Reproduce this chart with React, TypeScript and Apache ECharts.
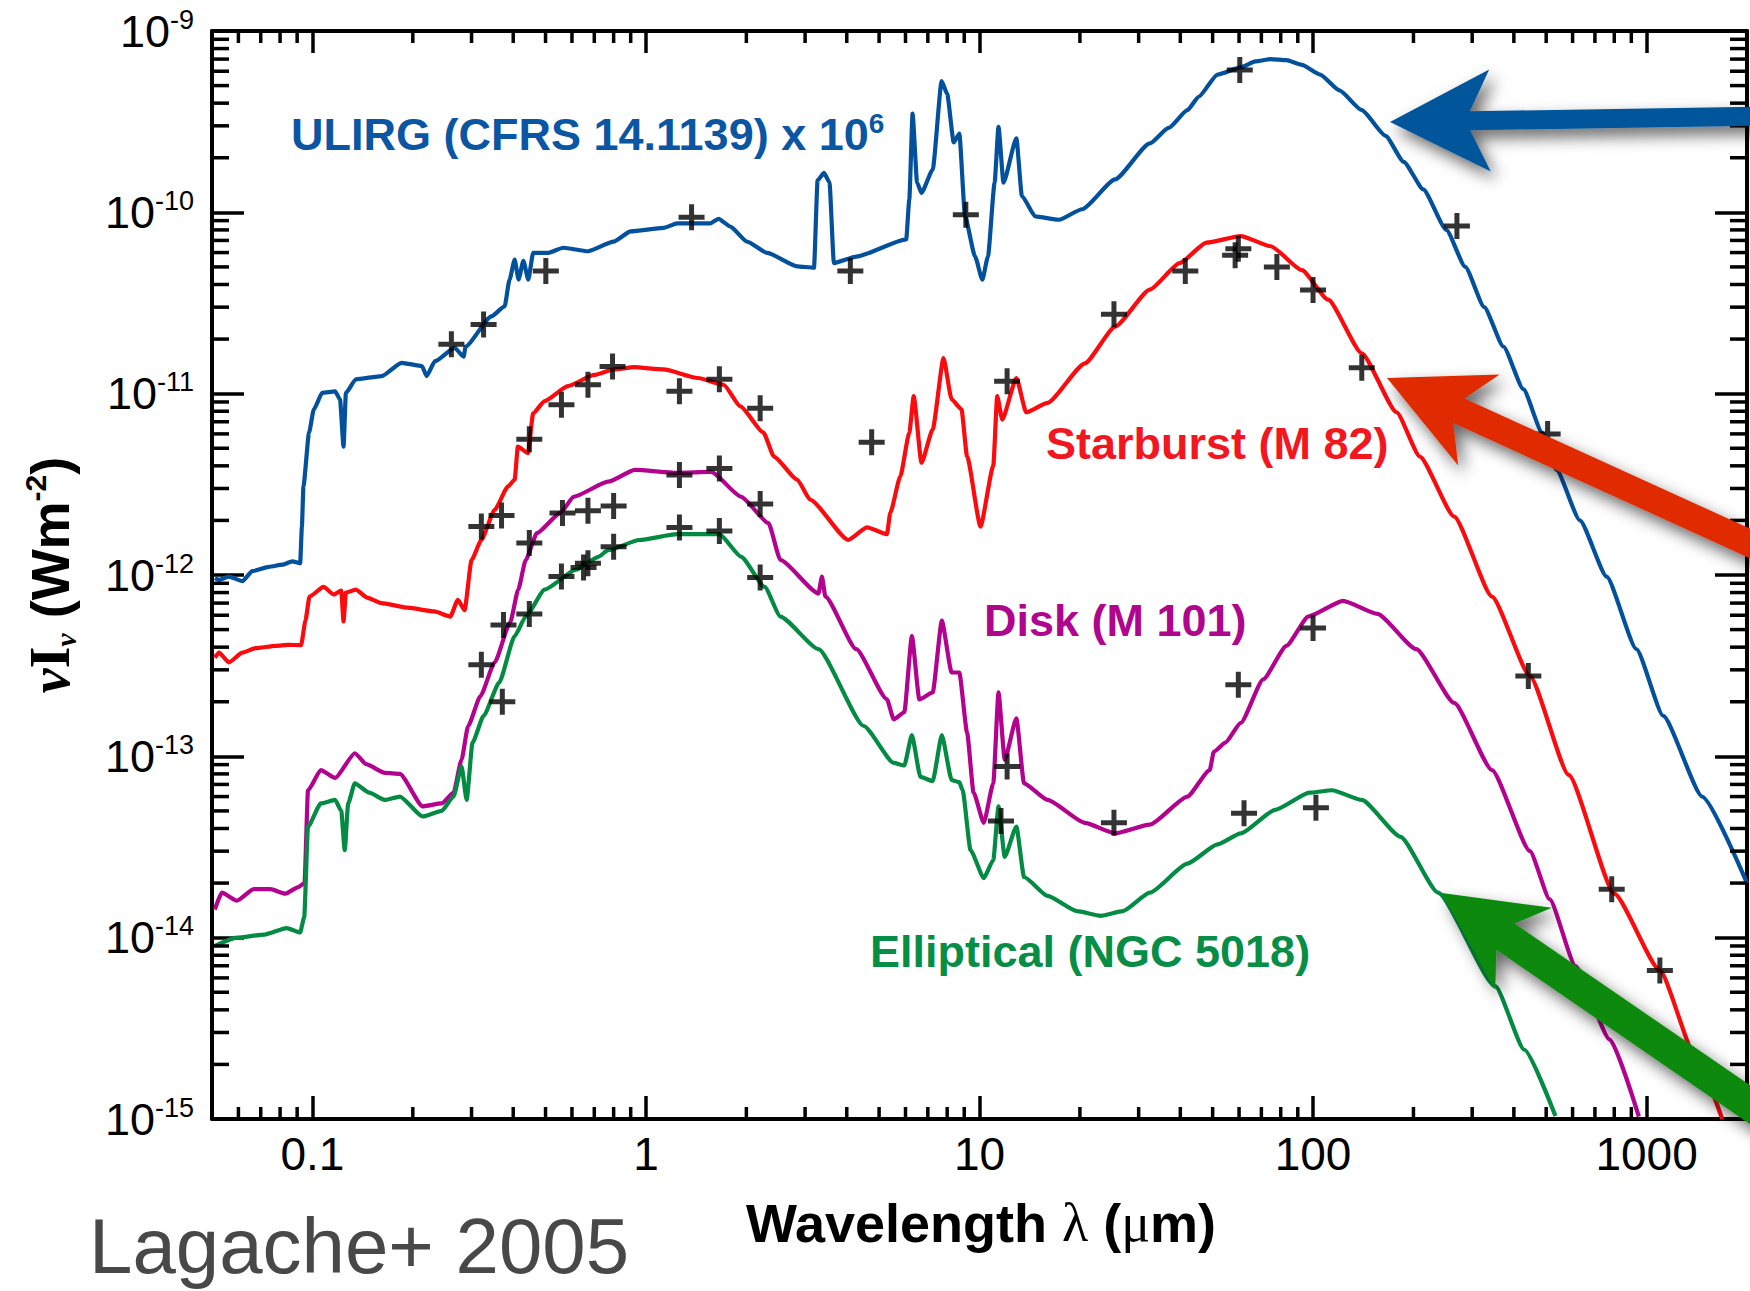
import React, { useEffect, useRef } from 'react';
import * as echarts from 'echarts';

const FONT = '"Liberation Sans", Arial, Helvetica, sans-serif';
const SERIF = '"Liberation Serif", "DejaVu Serif", serif';

// wavelength (µm), νIν (W m^-2)
const ULIRG_SPECTRUM: [number, number][] = [
  [0.051, 9.6e-13], [0.0525, 9.4e-13], [0.0562, 9.8e-13], [0.0617, 9.25e-13], [0.066, 1.05e-12], [0.0741, 1.11e-12],
  [0.0813, 1.14e-12], [0.0871, 1.19e-12], [0.0919, 1.16e-12], [0.093, 1.85e-12], [0.094, 3.08e-12], [0.0977, 6.1e-12],
  [0.101, 8.2e-12], [0.107, 1.01e-11], [0.117, 1.03e-11], [0.121, 9.3e-12], [0.124, 5.1e-12], [0.126, 1.01e-11],
  [0.135, 1.2e-11], [0.1615, 1.25e-11], [0.185, 1.48e-11], [0.213, 1.42e-11], [0.22, 1.25e-11], [0.233, 1.51e-11],
  [0.267, 1.79e-11], [0.284, 1.6e-11], [0.288, 1.82e-11], [0.344, 2.67e-11], [0.377, 3.03e-11], [0.39, 4.26e-11],
  [0.404, 5.48e-11], [0.415, 4.26e-11], [0.429, 5.4e-11], [0.444, 4.26e-11], [0.459, 5.98e-11], [0.51, 5.98e-11],
  [0.565, 6.38e-11], [0.67, 6.1e-11], [0.8, 6.9e-11], [0.9, 7.85e-11], [1.13, 8.2e-11], [1.24, 8.7e-11],
  [1.56, 8.7e-11], [1.65, 9.2e-11], [1.79, 8.35e-11], [2.01, 6.9e-11], [2.31, 5.97e-11], [2.84, 5.04e-11],
  [3.19, 4.95e-11], [3.27, 1.5e-10], [3.42, 1.65e-10], [3.55, 1.46e-10], [3.66, 5.25e-11], [4.27, 5.7e-11],
  [6.03, 7.1e-11], [6.16, 1.18e-10], [6.3, 3.5e-10], [6.5, 1.46e-10], [6.7, 1.28e-10], [7.24, 1.72e-10],
  [7.7, 5.3e-10], [8.0, 4.5e-10], [8.37, 2.43e-10], [8.7, 2.72e-10], [9.05, 9.5e-11], [9.7, 5.7e-11],
  [10.2, 4.25e-11], [10.6, 5.7e-11], [11.1, 1.46e-10], [11.4, 2.96e-10], [11.8, 1.46e-10], [12.9, 2.56e-10],
  [13.4, 1.23e-10], [14.7, 9.5e-11], [17.3, 9.1e-11], [20.3, 1.04e-10], [25.5, 1.52e-10], [32.4, 2.4e-10],
  [36.9, 2.92e-10], [42, 3.66e-10], [45.4, 4.34e-10], [51.7, 5.75e-10], [60.7, 6.3e-10], [67.2, 6.8e-10],
  [74.7, 7.0e-10], [83.2, 6.9e-10], [92.6, 6.5e-10], [105, 5.75e-10], [120, 4.7e-10], [140, 3.66e-10],
  [165, 2.64e-10], [187, 1.9e-10], [214, 1.34e-10], [251, 8.0e-11], [286, 5.0e-11], [326, 3.0e-11],
  [372, 1.82e-11], [427, 1.06e-11], [486, 6.1e-12], [537, 3.8e-12], [631, 2.0e-12], [759, 9.8e-13],
  [932, 3.9e-13], [1122, 1.67e-13], [1468, 6.0e-14], [2000, 2.0e-14],
];

const STARBURST_SPECTRUM: [number, number][] = [
  [0.051, 3.5e-13], [0.0525, 3.73e-13], [0.0562, 3.3e-13], [0.0617, 3.73e-13], [0.0676, 3.95e-13], [0.0776, 4.07e-13],
  [0.085, 4.12e-13], [0.0925, 4.1e-13], [0.0953, 5.6e-13], [0.098, 7.6e-13], [0.108, 8.6e-13], [0.116, 7.8e-13],
  [0.122, 8.2e-13], [0.124, 5.55e-13], [0.126, 8.0e-13], [0.135, 8.3e-13], [0.146, 7.5e-13], [0.161, 7.0e-13],
  [0.193, 6.6e-13], [0.232, 6.3e-13], [0.259, 5.9e-13], [0.273, 7.3e-13], [0.286, 6.4e-13], [0.3, 1.21e-12],
  [0.321, 1.56e-12], [0.352, 2.29e-12], [0.386, 3.08e-12], [0.404, 3.36e-12], [0.413, 5.1e-12], [0.443, 4.7e-12],
  [0.459, 7.8e-12], [0.497, 9.1e-12], [0.583, 1.1e-11], [0.7, 1.27e-11], [0.8, 1.36e-11], [0.92, 1.4e-11],
  [1.13, 1.36e-11], [1.43, 1.22e-11], [1.71, 1.12e-11], [1.92, 8.5e-12], [2.25, 6.1e-12], [2.42, 4.5e-12],
  [2.84, 3.36e-12], [3.11, 2.6e-12], [4.04, 1.56e-12], [4.6, 1.83e-12], [5.28, 1.68e-12], [5.4, 2.2e-12],
  [5.79, 3.5e-12], [6.16, 6.1e-12], [6.35, 9.7e-12], [6.7, 4.15e-12], [7.24, 6.35e-12], [7.8, 1.57e-11],
  [8.25, 9.3e-12], [8.83, 8.2e-12], [9.18, 4.5e-12], [10.07, 1.85e-12], [11.0, 4.0e-12], [11.3, 9.7e-12],
  [11.7, 7.2e-12], [12.9, 1.22e-11], [13.8, 7.9e-12], [16.0, 8.9e-12], [20.7, 1.47e-11], [25.5, 2.34e-11],
  [32.4, 3.75e-11], [39.8, 5.25e-11], [47.9, 6.8e-11], [60.7, 7.4e-11], [74.7, 6.5e-11], [92.6, 4.8e-11],
  [111, 3.3e-11], [140, 1.67e-11], [178, 7.9e-12], [209, 4.5e-12], [265, 2.1e-12], [344, 7.6e-13],
  [447, 2.77e-13], [584, 7.9e-14], [800, 1.75e-14], [1096, 6.6e-15], [1402, 2.2e-15], [1686, 1.0e-15],
];

const DISK_SPECTRUM: [number, number][] = [
  [0.051, 1.43e-14], [0.0535, 1.77e-14], [0.0594, 1.6e-14], [0.0667, 1.85e-14], [0.0748, 1.85e-14], [0.083, 1.75e-14],
  [0.0907, 1.9e-14], [0.0947, 2.0e-14], [0.097, 6.5e-14], [0.106, 8.4e-14], [0.117, 7.6e-14], [0.134, 1.04e-13],
  [0.145, 9.05e-14], [0.165, 8.1e-14], [0.183, 8.0e-14], [0.214, 5.3e-14], [0.244, 5.5e-14], [0.265, 6.3e-14],
  [0.28, 9.6e-14], [0.293, 1.47e-13], [0.319, 2.15e-13], [0.352, 3.3e-13], [0.392, 5.5e-13], [0.414, 8.3e-13],
  [0.436, 1.21e-12], [0.471, 1.7e-12], [0.554, 2.2e-12], [0.607, 2.7e-12], [0.77, 3.27e-12], [0.926, 3.8e-12],
  [1.24, 3.66e-12], [1.57, 3.7e-12], [1.93, 2.7e-12], [2.33, 1.93e-12], [2.53, 1.21e-12], [3.29, 7.9e-13],
  [3.37, 9.8e-13], [3.45, 7.6e-13], [4.27, 3.9e-13], [5.28, 2.06e-13], [5.53, 1.6e-13], [5.95, 1.75e-13],
  [6.27, 4.6e-13], [6.6, 2.06e-13], [7.24, 2.25e-13], [7.71, 5.6e-13], [8.25, 2.9e-13], [8.7, 2.9e-13],
  [9.18, 1.35e-13], [9.6, 6.3e-14], [10.3, 4.3e-14], [11.0, 7.1e-14], [11.4, 2.25e-13], [11.9, 9.6e-14],
  [12.9, 1.62e-13], [13.6, 7.1e-14], [16.0, 5.75e-14], [20.7, 4.3e-14], [25.5, 3.76e-14], [32.4, 4.2e-14],
  [42, 6.0e-14], [49, 8.4e-14], [50.4, 1.06e-13], [54.6, 1.19e-13], [60.7, 1.53e-13], [70.9, 2.66e-13],
  [83.2, 4.07e-13], [96.8, 5.9e-13], [123, 7.2e-13], [156, 6.1e-13], [204, 3.9e-13], [265, 1.97e-13],
  [344, 8.4e-14], [447, 3.0e-14], [512, 1.63e-14], [612, 6.97e-15], [776, 2.74e-15], [948, 1.03e-15],
];

const ELLIPTICAL_SPECTRUM: [number, number][] = [
  [0.051, 9.0e-15], [0.0594, 1.0e-14], [0.0718, 1.04e-14], [0.0837, 1.13e-14], [0.0919, 1.07e-14], [0.0945, 1.3e-14],
  [0.097, 4.1e-14], [0.106, 5.5e-14], [0.117, 5.75e-14], [0.122, 5.0e-14], [0.125, 3.04e-14], [0.128, 5.5e-14],
  [0.134, 7.1e-14], [0.148, 6.3e-14], [0.165, 5.75e-14], [0.183, 6.0e-14], [0.214, 4.66e-14], [0.244, 5.0e-14],
  [0.265, 6.0e-14], [0.28, 8.8e-14], [0.29, 5.75e-14], [0.302, 1.19e-13], [0.326, 1.67e-13], [0.363, 2.55e-13],
  [0.404, 4.6e-13], [0.436, 5.9e-13], [0.497, 8.3e-13], [0.617, 1.07e-12], [0.72, 1.26e-12], [0.77, 1.37e-12],
  [0.955, 1.56e-12], [1.24, 1.68e-12], [1.66, 1.68e-12], [1.93, 1.26e-12], [2.27, 8.6e-13], [2.53, 5.9e-13],
  [3.29, 3.9e-13], [4.5, 1.47e-13], [5.53, 9.2e-14], [5.95, 8.9e-14], [6.27, 1.31e-13], [6.65, 7.7e-14],
  [7.24, 7.3e-14], [7.71, 1.31e-13], [8.25, 7.4e-14], [8.7, 7.2e-14], [8.9, 6.5e-14], [9.4, 3.04e-14],
  [10.3, 2.13e-14], [11.0, 2.68e-14], [11.4, 5.3e-14], [11.9, 2.79e-14], [12.9, 4.1e-14], [13.6, 2.16e-14],
  [16.0, 1.7e-14], [19.6, 1.4e-14], [23.1, 1.32e-14], [26.9, 1.4e-14], [32.4, 1.77e-14], [42, 2.56e-14],
  [51.7, 3.27e-14], [60.7, 3.76e-14], [77, 5.07e-14], [97.6, 6.3e-14], [114, 6.5e-14], [140, 5.75e-14],
  [183, 3.6e-14], [237, 1.77e-14], [352, 5.4e-15], [430, 2.41e-15], [533, 1.04e-15],
];

// photometric measurements (crosses)
const ULIRG_POINTS: [number, number][] = [
  [0.261, 1.87e-11], [0.326, 2.41e-11], [0.501, 4.75e-11], [1.37, 9.4e-11], [4.1, 4.75e-11], [9.1, 9.7e-11],
  [60.3, 6.1e-10], [270, 8.4e-11], [505, 6.0e-12],
];
const STARBURST_POINTS: [number, number][] = [
  [0.321, 1.85e-12], [0.369, 2.13e-12], [0.447, 5.6e-12], [0.558, 8.7e-12], [0.67, 1.12e-11], [0.794, 1.41e-11],
  [1.26, 1.03e-11], [1.66, 1.2e-11], [2.2, 8.3e-12], [4.75, 5.4e-12], [12.1, 1.17e-11], [25.3, 2.74e-11],
  [41.4, 4.75e-11], [58.4, 5.8e-11], [59.7, 6.3e-11], [77.9, 5.0e-11], [100, 3.73e-11], [140, 1.39e-11],
  [442, 2.77e-13], [786, 1.85e-14], [1096, 6.6e-15],
];
const DISK_POINTS: [number, number][] = [
  [0.321, 3.2e-13], [0.374, 5.3e-13], [0.447, 1.5e-12], [0.562, 2.2e-12], [0.67, 2.26e-12], [0.8, 2.4e-12],
  [1.26, 3.56e-12], [1.66, 3.87e-12], [2.2, 2.46e-12], [12.1, 8.8e-14], [25.3, 4.3e-14], [59.7, 2.48e-13],
  [100, 5.1e-13],
];
const ELLIPTICAL_POINTS: [number, number][] = [
  [0.371, 2.0e-13], [0.447, 6.1e-13], [0.558, 9.8e-13], [0.65, 1.1e-12], [0.67, 1.16e-12], [0.8, 1.43e-12],
  [1.26, 1.83e-12], [1.66, 1.75e-12], [2.2, 9.7e-13], [11.6, 4.4e-14], [62.1, 4.85e-14], [102, 5.2e-14],
];

const X_DECADES = [0.1, 1, 10, 100, 1000];
const X_TICK_LABELS = ['0.1', '1', '10', '100', '1000'];
const Y_DECADES = [1e-15, 1e-14, 1e-13, 1e-12, 1e-11, 1e-10, 1e-9];
const Y_TICK_EXPONENTS = ['-15', '-14', '-13', '-12', '-11', '-10', '-9'];
const MINOR_MULTIPLIERS = [2, 3, 4, 5, 6, 7, 8, 9];
const X_MIN = 0.05;
const X_MAX = 2000;
const Y_MIN = 1e-15;
const Y_MAX = 1e-9;

const COLORS = {
  ulirg: '#03519D',
  starburst: '#FB0A0E',
  disk: '#B2028E',
  elliptical: '#038B43',
};

const CROSS = 'path://M0,10.5L26,10.5L26,15.5L0,15.5Z M10.5,0L15.5,0L15.5,26L10.5,26Z';

function arrowPoints(tip: number[], angleDeg: number, length: number, headLen: number, headWidth: number, shaft: number, notch: number) {
  const a = (angleDeg * Math.PI) / 180;
  const ux = Math.cos(a), uy = Math.sin(a);
  const px = -uy, py = ux;
  const P = (along: number, side: number) => [tip[0] + ux * along + px * side, tip[1] + uy * along + py * side];
  return [
    P(0, 0), P(headLen, headWidth / 2), P(headLen - notch, shaft / 2), P(length, shaft / 2),
    P(length, -shaft / 2), P(headLen - notch, -shaft / 2), P(headLen, -headWidth / 2),
  ];
}

function matchIndex(list: number[], v: number) {
  return list.findIndex((t) => Math.abs(Math.log10(t) - Math.log10(v)) < 1e-6);
}

function buildOption() {
  const xMinor: number[][] = [];
  [0.01, 0.1, 1, 10, 100, 1000].forEach((d) =>
    MINOR_MULTIPLIERS.forEach((m) => {
      const v = d * m;
      if (v > X_MIN * 1.001 && v < X_MAX * 0.999) xMinor.push([v, 1e-12]);
    })
  );
  const yMinor: number[][] = [];
  Y_DECADES.slice(0, -1).forEach((d) => MINOR_MULTIPLIERS.forEach((m) => yMinor.push([1, d * m])));

  const tickStyle = { color: '#000', width: 3.5 };
  const axisLineStyle = { color: '#000', width: 4 };

  const lineSeries = (name: string, data: [number, number][], color: string) => ({
    type: 'line', name, data, showSymbol: false, symbol: 'none', silent: true, z: 3,
    smooth: 0.18, smoothMonotone: 'x',
    lineStyle: { color, width: 4.2, join: 'round' }, itemStyle: { color },
  });
  const crossSeries = (name: string, data: [number, number][]) => ({
    type: 'scatter', name, data, symbol: CROSS, symbolSize: 26, silent: true, z: 5,
    itemStyle: { color: '#000' },
  });

  const label = (text: string, x: number, y: number, color: string) => ({
    type: 'text', x, y, z: 50,
    style: {
      text, fill: color, font: `bold 45px ${FONT}`, fontSize: 45, fontWeight: 'bold', fontFamily: FONT,
      align: 'left', textAlign: 'left', verticalAlign: 'middle', textVerticalAlign: 'middle',
    },
  });

  const arrow = (color: string, pts: number[][]) => ({
    type: 'polygon', z: 100,
    shape: { points: pts },
    style: { fill: color, shadowBlur: 16, shadowColor: 'rgba(0,0,0,0.6)', shadowOffsetX: 6, shadowOffsetY: 8 },
  });

  return {
    animation: false,
    backgroundColor: '#fff',
    grid: { left: 212, top: 31, right: 0, bottom: 172 },
    xAxis: [
      {
        type: 'log', logBase: 10, min: X_MIN, max: X_MAX, position: 'bottom',
        axisLine: { lineStyle: axisLineStyle },
        axisTick: { inside: true, length: 23, lineStyle: tickStyle },
        splitLine: { show: false },
        axisLabel: {
          color: '#000', fontSize: 46, fontFamily: FONT, margin: 12,
          formatter: (v: number) => {
            const i = matchIndex(X_DECADES, v);
            return i >= 0 ? X_TICK_LABELS[i] : '';
          },
        },
      },
      {
        type: 'log', logBase: 10, min: X_MIN, max: X_MAX, position: 'top',
        axisLine: { lineStyle: axisLineStyle },
        axisTick: { inside: true, length: 22, lineStyle: tickStyle },
        splitLine: { show: false },
        axisLabel: { show: false },
      },
    ],
    yAxis: [
      {
        type: 'log', logBase: 10, min: Y_MIN, max: Y_MAX, position: 'left',
        axisLine: { lineStyle: axisLineStyle },
        axisTick: { inside: true, length: 32, lineStyle: tickStyle },
        splitLine: { show: false },
        axisLabel: {
          margin: 18,
          formatter: (v: number) => {
            const i = matchIndex(Y_DECADES, v);
            return i >= 0 ? `{b|10}{s|${Y_TICK_EXPONENTS[i]}}` : '';
          },
          rich: {
            b: { fontSize: 45, fontFamily: FONT, color: '#000', lineHeight: 50 },
            s: { fontSize: 27, fontFamily: FONT, color: '#000', lineHeight: 36, verticalAlign: 'top' },
          },
        },
      },
      {
        type: 'log', logBase: 10, min: Y_MIN, max: Y_MAX, position: 'right',
        axisLine: { lineStyle: axisLineStyle },
        axisTick: { inside: true, length: 32, lineStyle: tickStyle },
        splitLine: { show: false },
        axisLabel: { show: false },
      },
    ],
    series: [
      lineSeries('ULIRG (CFRS 14.1139) x 10^6', ULIRG_SPECTRUM, COLORS.ulirg),
      lineSeries('Starburst (M 82)', STARBURST_SPECTRUM, COLORS.starburst),
      lineSeries('Disk (M 101)', DISK_SPECTRUM, COLORS.disk),
      lineSeries('Elliptical (NGC 5018)', ELLIPTICAL_SPECTRUM, COLORS.elliptical),
      crossSeries('ULIRG data', ULIRG_POINTS),
      crossSeries('Starburst data', STARBURST_POINTS),
      crossSeries('Disk data', DISK_POINTS),
      crossSeries('Elliptical data', ELLIPTICAL_POINTS),
      {
        type: 'custom', name: 'x minor ticks', silent: true, z: 6, data: xMinor,
        renderItem: (_p: any, api: any) => {
          const x = api.value(0);
          const b = api.coord([x, Y_MIN]);
          const t = api.coord([x, Y_MAX]);
          return {
            type: 'group',
            children: [
              { type: 'line', shape: { x1: b[0], y1: b[1], x2: b[0], y2: b[1] - 12 }, style: { stroke: '#000', lineWidth: 3.5 } },
              { type: 'line', shape: { x1: t[0], y1: t[1], x2: t[0], y2: t[1] + 12 }, style: { stroke: '#000', lineWidth: 3.5 } },
            ],
          };
        },
      },
      {
        type: 'custom', name: 'y minor ticks', silent: true, z: 6, data: yMinor,
        renderItem: (_p: any, api: any) => {
          const y = api.value(1);
          const l = api.coord([X_MIN, y]);
          const r = api.coord([X_MAX, y]);
          return {
            type: 'group',
            children: [
              { type: 'line', shape: { x1: l[0], y1: l[1], x2: l[0] + 17, y2: l[1] }, style: { stroke: '#000', lineWidth: 3.5 } },
              { type: 'line', shape: { x1: r[0], y1: r[1], x2: r[0] - 17, y2: r[1] }, style: { stroke: '#000', lineWidth: 3.5 } },
            ],
          };
        },
      },
    ],
    graphic: [
      {
        type: 'text', x: 291, y: 134, z: 50,
        style: {
          text: '{t|ULIRG (CFRS 14.1139) x 10}{s|6}',
          align: 'left', textAlign: 'left', verticalAlign: 'middle', textVerticalAlign: 'middle',
          rich: {
            t: { fontSize: 45, fontWeight: 'bold', fontFamily: FONT, fill: '#0A56A3', color: '#0A56A3', lineHeight: 50 },
            s: { fontSize: 28, fontWeight: 'bold', fontFamily: FONT, fill: '#0A56A3', color: '#0A56A3', lineHeight: 36, verticalAlign: 'top' },
          },
        },
      },
      label('Starburst (M 82)', 1046, 443, '#F2171F'),
      label('Disk (M 101)', 984, 620, '#B0068D'),
      label('Elliptical (NGC 5018)', 870, 951, '#078E46'),
      {
        type: 'text', x: 981, y: 1223, z: 50,
        style: {
          text: '{a|Wavelength }{l|λ}{a| (}{l|μ}{a|m)}',
          align: 'center', textAlign: 'center', verticalAlign: 'middle', textVerticalAlign: 'middle',
          rich: {
            a: { fontSize: 54, fontWeight: 'bold', fontFamily: FONT, fill: '#000', color: '#000' },
            l: { fontSize: 54, fontWeight: 'normal', fontFamily: SERIF, fill: '#000', color: '#000' },
          },
        },
      },
      {
        type: 'text', x: 50, y: 575, z: 50, rotation: Math.PI / 2,
        style: {
          text: '{nu|ν}{I|I}{sub|ν}{t| (Wm}{sup|-2}{t|)}',
          align: 'center', textAlign: 'center', verticalAlign: 'middle', textVerticalAlign: 'middle',
          rich: {
            nu: { fontSize: 56, fontWeight: 'bold', fontStyle: 'italic', fontFamily: SERIF, fill: '#000', color: '#000', lineHeight: 60 },
            I: { fontSize: 56, fontWeight: 'bold', fontFamily: SERIF, fill: '#000', color: '#000', lineHeight: 60 },
            sub: { fontSize: 30, fontStyle: 'italic', fontWeight: 'bold', fontFamily: SERIF, fill: '#000', color: '#000', lineHeight: 40, verticalAlign: 'bottom' },
            t: { fontSize: 54, fontWeight: 'bold', fontFamily: FONT, fill: '#000', color: '#000', lineHeight: 60 },
            sup: { fontSize: 30, fontWeight: 'bold', fontFamily: FONT, fill: '#000', color: '#000', lineHeight: 40, verticalAlign: 'top' },
          },
        },
      },
      {
        type: 'text', x: 89, y: 1246, z: 50,
        style: {
          text: 'Lagache+ 2005', fill: '#484848', font: `78px ${FONT}`, fontSize: 78, fontFamily: FONT,
          align: 'left', textAlign: 'left', verticalAlign: 'middle', textVerticalAlign: 'middle',
        },
      },
      arrow('#04559B', arrowPoints([1390, 122], -0.9, 420, 100, 102, 19, 20)),
      arrow('#E02A06', arrowPoints([1387, 378], 24.5, 450, 101, 100, 27, 22)),
      arrow('#0A8A0C', arrowPoints([1442, 893], 34.5, 520, 99, 100, 32, 22)),
    ],
  };
}

export default function App() {
  const ref = useRef<HTMLDivElement>(null);
  useEffect(() => {
    if (!ref.current) return;
    const chart = echarts.init(ref.current, null, { renderer: 'svg' });
    chart.setOption(buildOption() as any);
    return () => chart.dispose();
  }, []);
  return (
    <div
      ref={ref}
      style={{ position: 'fixed', left: 0, top: 0, width: 1750, height: 1291, background: '#fff', overflow: 'hidden' }}
    />
  );
}
